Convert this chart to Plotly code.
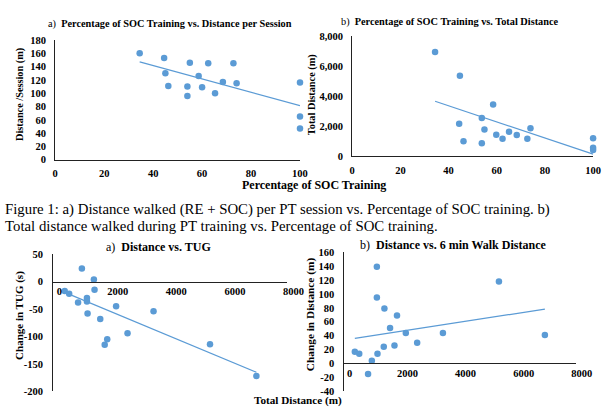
import numpy as np
import plotly.graph_objects as go

# ---------------- data ----------------
# top panels (per participant)
pct_soc = [34.5, 44.5, 45.0, 46.2, 54.0, 54.0, 55.0, 58.6, 60.0, 62.5, 65.3, 68.5, 72.8, 74.1, 100, 100, 100]
dist_per_session = [160, 153, 130, 111, 110, 96, 146, 126, 109, 145, 100, 117, 145, 115, 116, 65, 47]
pct_soc_b = [34.4, 44.7, 44.4, 46.2, 53.8, 53.8, 54.9, 58.5, 59.8, 62.4, 65.1, 68.3, 72.7, 74.0, 100, 100, 100]
total_dist_b = [6939, 5355, 2146, 976, 2537, 846, 1756, 3425, 1409, 1149, 1604, 1387, 1149, 1843, 1171, 542, 390]

# bottom panels (ordered by total distance)
total_dist = [390, 542, 846, 976, 1149, 1149, 1171, 1387, 1409, 1604, 1756, 1843, 2146, 2537, 3425, 5355, 6939]
tug_change = [-17, -22, -38, 24, -30, -36, -58, 4, -15, -68, -115, -105, -45, -94, -54, -114, -172]
walk_change = [17, 14, -15, 4, 139, 95, 14, 24, 79, 51, 26, 69, 44, 30, 44, 118, 41]

# tick values
pct_ticks = [0, 20, 40, 60, 80, 100]
session_ticks = [0, 20, 40, 60, 80, 100, 120, 140, 160, 180]
total_ticks_top = [0, 2000, 4000, 6000, 8000]
total_ticks = [0, 2000, 4000, 6000, 8000]
tug_ticks = [-200, -150, -100, -50, 0, 50]
walk_ticks = [-40, -20, 0, 20, 40, 60, 80, 100, 120, 140, 160]

BLUE = "#5B9BD5"
SERIF = "Liberation Serif"
W, H = 613, 412


def px(x):
    return x / W


def py(y):
    return 1 - y / H


def trend(x, y):
    x = np.asarray(x, float)
    y = np.asarray(y, float)
    m, b = np.polyfit(x, y, 1)
    xs = np.array([x.min(), x.max()])
    return xs, m * xs + b


def bold_ticks(vals, fmt="{}"):
    return dict(tickmode="array", tickvals=vals,
                ticktext=[f"<b>{fmt.format(v)}</b>" for v in vals])


fig = go.Figure()

panels = [
    (pct_soc, dist_per_session, "x", "y"),
    (pct_soc_b, total_dist_b, "x2", "y2"),
    (total_dist, tug_change, "x3", "y3"),
    (total_dist, walk_change, "x4", "y4"),
]
for xs, ys, xa, ya in panels:
    fig.add_trace(go.Scatter(x=xs, y=ys, mode="markers", xaxis=xa, yaxis=ya,
                             marker=dict(color=BLUE, size=6.5), cliponaxis=False,
                             showlegend=False, hoverinfo="skip"))
    tx, ty = trend(xs, ys)
    fig.add_trace(go.Scatter(x=tx, y=ty, mode="lines", xaxis=xa, yaxis=ya,
                             line=dict(color=BLUE, width=1.2), cliponaxis=False,
                             showlegend=False, hoverinfo="skip"))

tickfont = dict(family=SERIF, size=10.5, color="black")
common = dict(showgrid=False, zeroline=False, showline=True, linecolor="#222",
              linewidth=1.2, ticks="", tickfont=tickfont, fixedrange=True)

fig.update_layout(
    width=W, height=H, margin=dict(l=0, r=0, t=0, b=0), autosize=False,
    paper_bgcolor="white", plot_bgcolor="rgba(0,0,0,0)",
    xaxis=dict(domain=[px(54), px(307)], range=[0, 100], anchor="y",
               ticklabelstandoff=4, **bold_ticks(pct_ticks), **common),
    yaxis=dict(domain=[py(159), py(36)], range=[0, 180], anchor="x",
               ticklabelstandoff=6, **bold_ticks(session_ticks), **common),
    xaxis2=dict(domain=[px(361), px(610)], range=[0, 100], anchor="y2",
                ticklabelstandoff=4, ticklabeloverflow="hide past div",
                **bold_ticks(pct_ticks), **common),
    yaxis2=dict(domain=[py(155), py(32)], range=[0, 8000], anchor="x2",
                ticklabelstandoff=6, **bold_ticks(total_ticks_top, "{:,}"), **common),
    xaxis3=dict(domain=[px(52), px(294)], range=[0, 8000],
                anchor="free", position=py(284.3), ticklabelshift=6,
                **bold_ticks(total_ticks), **common),
    yaxis3=dict(domain=[py(397), py(256)], range=[-200, 50], anchor="x3",
                ticklabelstandoff=7, **bold_ticks(tug_ticks), **common),
    xaxis4=dict(domain=[px(352), px(592)], range=[0, 8000],
                anchor="free", position=py(368), ticklabelshift=6,
                **bold_ticks(total_ticks), **common),
    yaxis4=dict(domain=[py(397), py(254)], range=[-40, 160], anchor="x4",
                ticklabelstandoff=6, **bold_ticks(walk_ticks), **common),
)


def ann(text, x, y, size, angle=0, xanchor="center", bold=False, color="black"):
    fig.add_annotation(text=(f"<b>{text}</b>" if bold else text), x=px(x), y=py(y),
                       xref="paper", yref="paper", showarrow=False, textangle=angle,
                       xanchor=xanchor, yanchor="middle",
                       font=dict(family=SERIF, size=size, color=color))


# panel titles
ann("a)  <b>Percentage of SOC Training vs. Distance per Session</b>", 44, 20, 10.3, xanchor="left")
ann("b)  <b>Percentage of SOC Training vs. Total Distance</b>", 347, 17, 10.3, xanchor="left")
ann("a)  <b>Distance vs. TUG</b>", 104, 249, 12, xanchor="left")
ann("b)  <b>Distance vs. 6 min Walk Distance</b>", 367, 247, 12, xanchor="left")

# axis titles
ann("Distance /Session (m)", 17, 92, 10.3, angle=-90, bold=True)
ann("Total Distance (m)", 319, 92, 10.3, angle=-90, bold=True)
ann("Change in TUG (s)", 17, 319, 11, angle=-90, bold=True)
ann("Change in Distance (m)", 318, 318, 11.3, angle=-90, bold=True)
ann("Percentage of SOC Training", 322, 185, 12, bold=True)
ann("Total Distance (m)", 305, 406.5, 11.2, bold=True)

# caption
ann("Figure 1: a) Distance walked (RE + SOC) per PT session vs. Percentage of SOC training. b)",
    0, 210, 14.8, xanchor="left")
ann("Total distance walked during PT training vs. Percentage of SOC training.",
    0, 227, 14.8, xanchor="left")

fig.write_html("out.html", config={"responsive": False, "displayModeBar": False})
